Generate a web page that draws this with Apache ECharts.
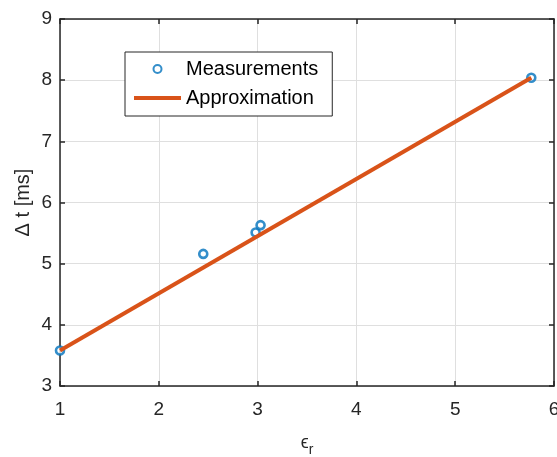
<!DOCTYPE html>
<html>
<head>
<meta charset="utf-8">
<script src="https://cdn.jsdelivr.net/npm/echarts@6/dist/echarts.min.js"></script>
<style>html,body{margin:0;padding:0;background:#fff;}#c{width:557px;height:457px;}</style>
</head>
<body>
<div id="c"></div>
<script>
const measX = [1.00, 2.45, 2.98, 3.03, 5.77];
const measY = [3.58, 5.16, 5.51, 5.63, 8.04];
const approxX = [1.00, 5.77];
const approxY = [3.58, 8.04];
const seriesNames = ['Measurements', 'Approximation'];
const xTicks = [1, 2, 3, 4, 5, 6];
const yTicks = [3, 4, 5, 6, 7, 8, 9];

const axisColor = '#262626';
const font = 'Liberation Sans, Arial, Helvetica, sans-serif';
const chart = echarts.init(document.getElementById('c'), null, {renderer: 'canvas'});

function baseAxis(vals, extra) {
  return Object.assign({
    type: 'value',
    min: vals[0], max: vals[vals.length - 1], interval: 1,
    axisLine: {show: true, onZero: false, lineStyle: {color: axisColor, width: 1.5}},
    axisTick: {show: true, inside: true, length: 5, lineStyle: {color: axisColor, width: 1.5}},
    splitLine: {show: false},
    axisLabel: {show: false}
  }, extra);
}

chart.setOption({
  animation: false,
  backgroundColor: '#fff',
  grid: {left: 60, top: 19, right: 3, bottom: 71, containLabel: false, outerBoundsMode: 'none'},
  legend: {
    data: [
      {name: seriesNames[0], icon: 'circle'},
      {name: seriesNames[1], icon: 'path://M0,0 L48,0 L48,4 L0,4 Z'}
    ],
    orient: 'vertical',
    left: 125, top: 52,
    padding: [6, 14, 7, 9],
    itemGap: 7,
    itemWidth: 47,
    itemHeight: 8,
    borderColor: axisColor,
    borderWidth: 1,
    backgroundColor: '#fff',
    textStyle: {fontFamily: font, fontSize: 20, color: '#000', lineHeight: 22}
  },
  xAxis: [
    baseAxis(xTicks, {
      position: 'bottom',
      name: '{e|ϵ}{s|r}',
      nameLocation: 'middle',
      nameGap: 48,
      nameMoveOverlap: false,
      nameTextStyle: {rich: {
        e: {fontFamily: font, fontSize: 18, color: axisColor, verticalAlign: 'top', lineHeight: 18},
        s: {fontFamily: font, fontSize: 14, color: axisColor, verticalAlign: 'top', lineHeight: 14, padding: [9, 0, 0, 0]}
      }},
      splitLine: {show: true, lineStyle: {color: '#dfdfdf', width: 1}},
      axisLabel: {show: true, margin: 14, fontFamily: font, fontSize: 19, color: axisColor}
    }),
    baseAxis(xTicks, {position: 'top'})
  ],
  yAxis: [
    baseAxis(yTicks, {
      position: 'left',
      name: 'Δ t [ms]',
      nameLocation: 'middle',
      nameGap: 27,
      nameMoveOverlap: false,
      nameTextStyle: {fontFamily: font, fontSize: 20, color: axisColor},
      splitLine: {show: true, lineStyle: {color: '#dfdfdf', width: 1}},
      axisLabel: {show: true, margin: 8, fontFamily: font, fontSize: 19, color: axisColor}
    }),
    baseAxis(yTicks, {position: 'right'})
  ],
  series: [
    {
      name: seriesNames[0],
      type: 'scatter',
      symbol: 'circle',
      symbolSize: 8,
      itemStyle: {color: '#ffffff', borderColor: '#0072BD', borderWidth: 2.6},
      data: measX.map((x, i) => [x, measY[i]]),
      z: 2
    },
    {
      name: seriesNames[1],
      type: 'line',
      symbol: 'none',
      showSymbol: false,
      lineStyle: {color: '#D95319', width: 4},
      itemStyle: {color: '#D95319'},
      data: approxX.map((x, i) => [x, approxY[i]]),
      z: 3
    }
  ]
});
</script>
</body>
</html>
